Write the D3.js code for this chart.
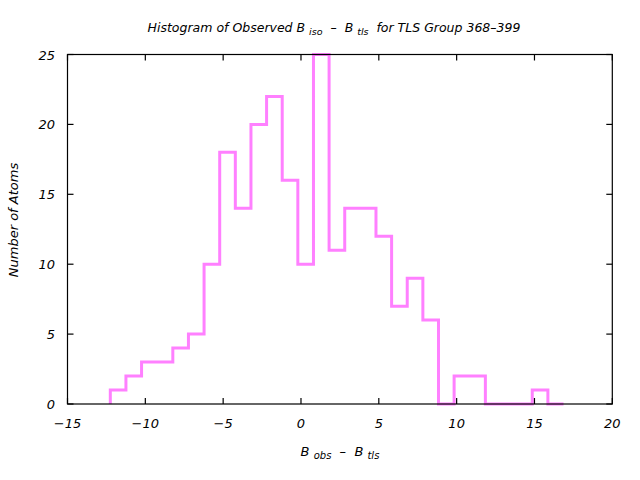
<!DOCTYPE html>
<html><head><meta charset="utf-8">
<script src="https://cdn.jsdelivr.net/npm/d3@7"></script>
<style>body{margin:0;background:#fff}text{font-family:"DejaVu Sans",sans-serif;font-style:italic;white-space:pre;}</style>
</head><body>
<svg id="c" width="640" height="480"></svg>
<script>
const binStart = -12.25;
const binWidth = 1.004;
const counts = [1,2,3,3,4,5,10,18,14,20,22,16,10,25,11,14,14,12,7,9,6,0,2,2,0,0,0,1,0];
const xTicks = [-15,-10,-5,0,5,10,15,20];
const yTicks = [0,5,10,15,20,25];

const svg = d3.select("#c");
const L=67.5, R=612.3, T=54.5, B=404;
const x = d3.scaleLinear().domain([-15,20]).range([L,R]);
const y = d3.scaleLinear().domain([0,25]).range([B,T]);

const pts = [];
pts.push([binStart, 0]);
counts.forEach((c,i)=>{
  const a = binStart + i*binWidth, b = a + binWidth;
  pts.push([a,c]); pts.push([b,c]);
});
const line = d3.line().x(d=>x(d[0])).y(d=>y(d[1]));
svg.append("path").attr("d", line(pts)).attr("fill","none")
  .attr("stroke","#ff80ff").attr("stroke-width",3).attr("stroke-linejoin","miter").attr("stroke-linecap","butt");

svg.append("rect").attr("x",L).attr("y",T).attr("width",R-L).attr("height",B-T)
  .attr("fill","none").attr("stroke","#000").attr("stroke-width",1.2);

const tl = 6;
const g = svg.append("g").attr("stroke","#000").attr("stroke-width",1.2);
xTicks.forEach(t=>{
  g.append("line").attr("x1",x(t)).attr("x2",x(t)).attr("y1",B).attr("y2",B-tl);
  g.append("line").attr("x1",x(t)).attr("x2",x(t)).attr("y1",T).attr("y2",T+tl);
});
yTicks.forEach(t=>{
  g.append("line").attr("x1",L).attr("x2",L+tl).attr("y1",y(t)).attr("y2",y(t));
  g.append("line").attr("x1",R).attr("x2",R-tl).attr("y1",y(t)).attr("y2",y(t));
});
const fmt = t => String(t).replace("-","\u2212");
svg.append("g").selectAll("text").data(xTicks).join("text")
  .attr("x",d=>x(d)).attr("y",428).attr("text-anchor","middle").attr("font-size",13).text(fmt);
svg.append("g").selectAll("text").data(yTicks).join("text")
  .attr("x",55).attr("y",d=>y(d)+5).attr("text-anchor","end").attr("font-size",13).text(fmt);

const title = svg.append("text").attr("x",334).attr("y",32).attr("text-anchor","middle").attr("font-size",12.5);
title.append("tspan").text("Histogram of Observed B ");
title.append("tspan").attr("font-size",9.5).attr("dy",3).text("iso");
title.append("tspan").attr("dy",-3).text("  \u2013  B ");
title.append("tspan").attr("font-size",9.5).attr("dy",3).text("tls");
title.append("tspan").attr("dy",-3).text("  for TLS Group 368\u2013399");

const xl = svg.append("text").attr("x",340).attr("y",456).attr("text-anchor","middle").attr("font-size",13);
xl.append("tspan").text("B ");
xl.append("tspan").attr("font-size",10).attr("dy",3).text("obs");
xl.append("tspan").attr("dy",-3).text("  \u2013  B ");
xl.append("tspan").attr("font-size",10).attr("dy",3).text("tls");

svg.append("text").attr("transform","translate(18,220) rotate(-90)").attr("text-anchor","middle")
  .attr("font-size",13).text("Number of Atoms");
</script>
</body></html>
